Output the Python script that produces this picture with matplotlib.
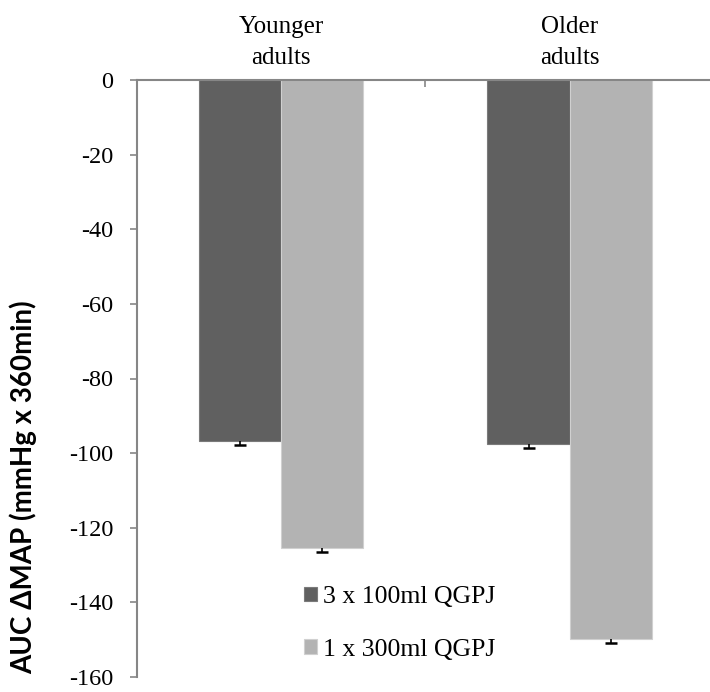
import numpy as np
import matplotlib
matplotlib.use("Agg")
import matplotlib.pyplot as plt
from matplotlib.font_manager import FontProperties

SERIF = ['Liberation Serif', 'DejaVu Serif']
plt.rcParams['font.family'] = SERIF
plt.rcParams['axes.unicode_minus'] = False

groups = ["Younger\nadults", "Older\nadults"]
series_names = ["3 x 100ml QGPJ", "1 x 300ml QGPJ"]
multi_dose = [-96.7, -97.6]
single_dose = [-125.3, -149.9]
multi_err = [1.1, 1.1]
single_err = [1.2, 1.0]
bar_colors = ["#606060", "#b3b3b3"]
edge_colors = ["#7a7a7a", "#d0d0d0"]
yticks = list(range(0, -161, -20))

axis_gray = "#868686"

fig = plt.figure(figsize=(7.1, 6.92), dpi=100)
ax = fig.add_axes([136.7 / 710, 15 / 692, 577.3 / 710, 597 / 692])

x = np.arange(len(groups))
w = 0.285
for i, (vals, errs) in enumerate([(multi_dose, multi_err), (single_dose, single_err)]):
    pos = x + (i - 0.5) * w
    ax.bar(pos, vals, width=w, color=bar_colors[i], edgecolor=edge_colors[i],
           linewidth=0.8, label=series_names[i], zorder=2)
    eb = ax.errorbar(pos, vals, yerr=[errs, [0] * len(errs)], fmt="none",
                     ecolor="black", elinewidth=1.2, capsize=4.3, capthick=1.8, zorder=3)
    # only the lower cap is visible in the original
    eb[1][1].set_visible(False)

ax.set_xlim(-0.5, 1.5)
ax.set_ylim(-160, 0)
ax.set_yticks(yticks)
ax.set_yticklabels([str(v) for v in yticks], fontsize=17.5, fontfamily=SERIF)

# category labels sit above the zero line
ax.xaxis.tick_top()
ax.set_xticks(x)
ax.set_xticklabels(groups, fontsize=18, fontfamily=SERIF, linespacing=1.5)
ax.tick_params(axis="x", which="major", length=0, pad=8)
ax.set_xticks([0.5, 1.5], minor=True)
ax.tick_params(axis="x", which="minor", direction="in", length=5, width=1.2, color=axis_gray)
ax.tick_params(axis="y", direction="out", length=5.3, width=1.2, color=axis_gray, pad=11.5)

for s in ["right", "bottom"]:
    ax.spines[s].set_visible(False)
for s in ["left", "top"]:
    ax.spines[s].set_color(axis_gray)
    ax.spines[s].set_linewidth(1.5)

ax.set_ylabel("AUC ΔMAP (mmHg x 360min)",
              fontproperties=FontProperties(family=["Lato", "DejaVu Sans"], weight="bold", size=20))
ax.yaxis.set_label_coords(-0.172, 0.318)

fig.legend(loc="upper left", bbox_to_anchor=(304 / 710, (692 - 586) / 692),
           frameon=False, prop=FontProperties(family=SERIF, size=18.5),
           handlelength=0.5, handleheight=0.5,
           handletextpad=0.25, labelspacing=1.2, borderpad=0, borderaxespad=0)

fig.savefig("out.png", dpi=100)
